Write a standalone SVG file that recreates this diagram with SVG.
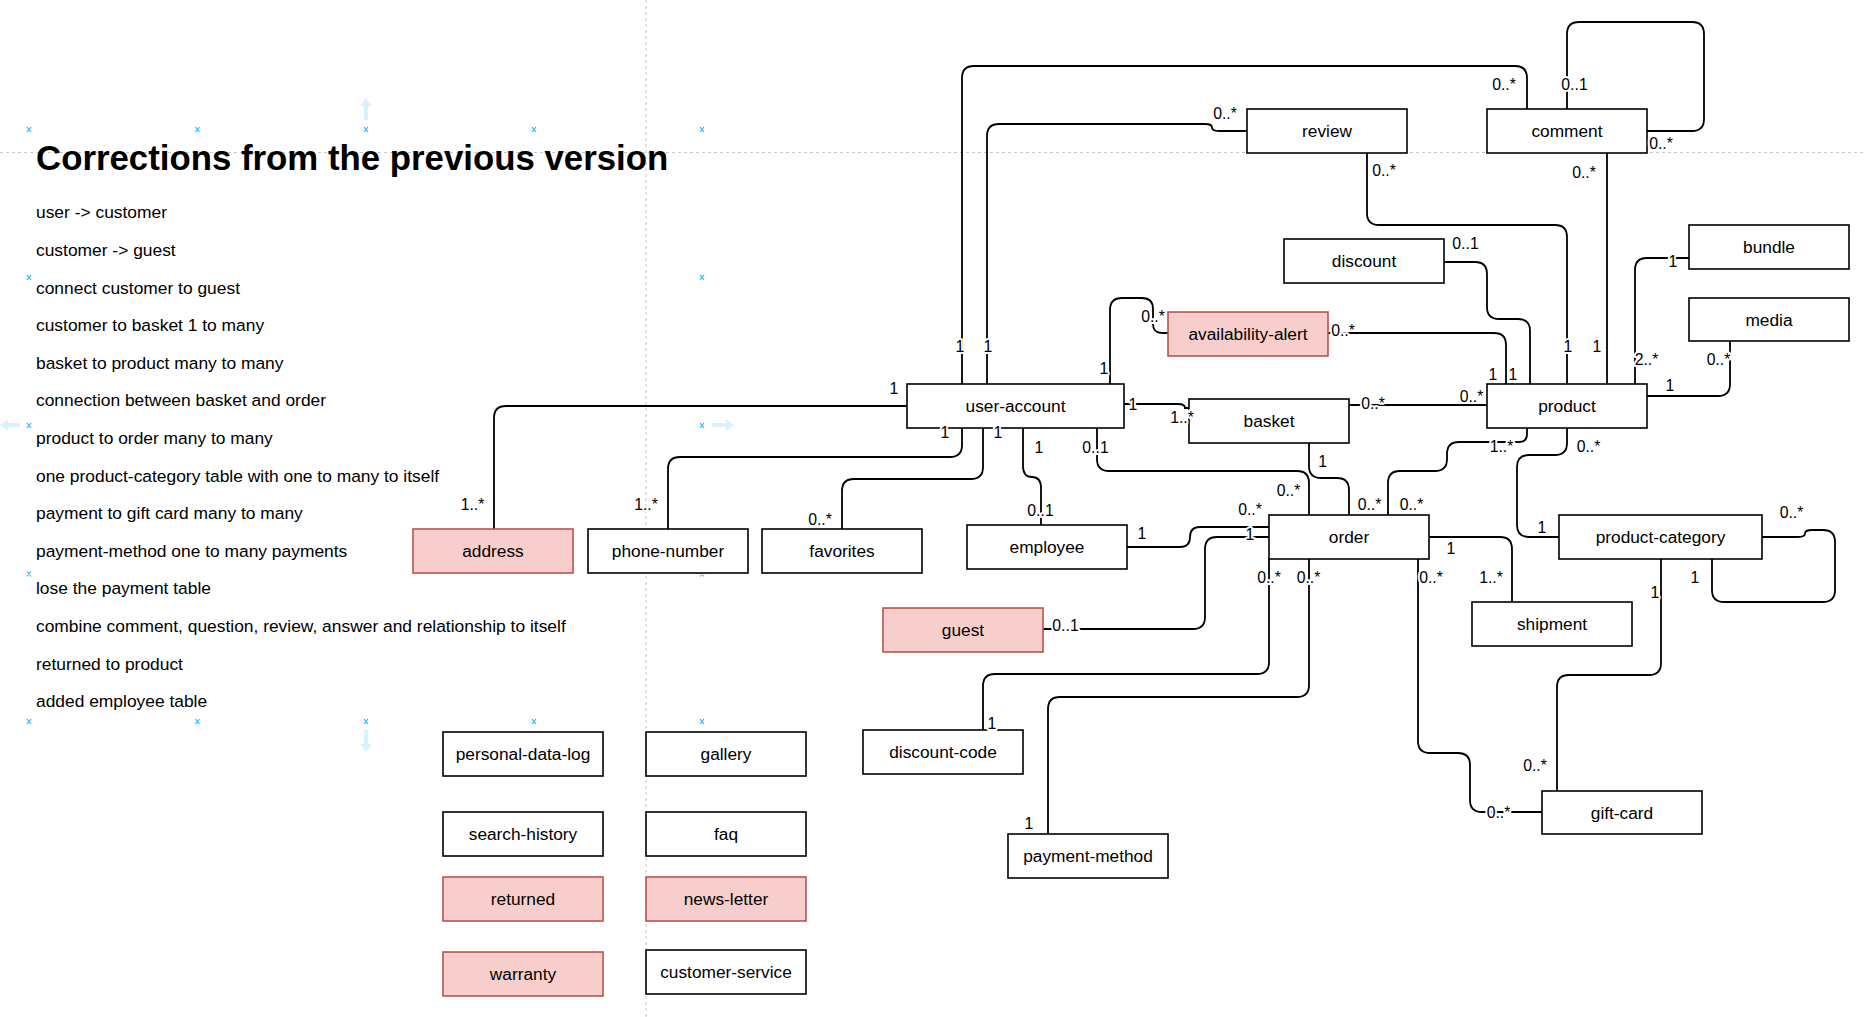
<svg xmlns="http://www.w3.org/2000/svg" width="1866" height="1017" viewBox="0 0 1866 1017">
<style>
.bg{fill:#ffffff}
.guide{stroke:#c8c8c8;stroke-width:1;stroke-dasharray:3 3;fill:none}
.mk{stroke:#29b6f2;stroke-width:1.2;fill:none}
.harrow{fill:#29b6f2;opacity:0.18}
.box{fill:#ffffff;stroke:#000000;stroke-width:1.6}
.pink{fill:#f8cecc;stroke:#b85450;stroke-width:1.6}
.edge{fill:none;stroke:#000000;stroke-width:1.8}
.nt{font-family:"Liberation Sans",Arial,Helvetica,sans-serif;font-size:17.3px;fill:#000000;text-anchor:middle}
.lb{font-family:"Liberation Sans",Arial,Helvetica,sans-serif;font-size:15.8px;fill:#000000;text-anchor:middle;paint-order:stroke;stroke:#ffffff;stroke-width:4px;stroke-linejoin:round}
.h1{font-family:"Liberation Sans",Arial,Helvetica,sans-serif;font-size:34.8px;font-weight:bold;fill:#000000}
.tx{font-family:"Liberation Sans",Arial,Helvetica,sans-serif;font-size:17.4px;fill:#000000}
</style>
<rect class="bg" x="0" y="0" width="1866" height="1017"/>
<g id="guides">
<line class="guide" x1="0" y1="152.5" x2="1866" y2="152.5"/>
<line class="guide" x1="646" y1="0" x2="646" y2="1017"/>
</g>
<g id="notes">
<text class="h1" x="36" y="170">Corrections from the previous version</text>
<text class="tx" x="36" y="218">user -&gt; customer</text>
<text class="tx" x="36" y="256">customer -&gt; guest</text>
<text class="tx" x="36" y="293.5">connect customer to guest</text>
<text class="tx" x="36" y="331">customer to basket 1 to many</text>
<text class="tx" x="36" y="369">basket to product many to many</text>
<text class="tx" x="36" y="406">connection between basket and order</text>
<text class="tx" x="36" y="444">product to order many to many</text>
<text class="tx" x="36" y="481.5">one product-category table with one to many to itself</text>
<text class="tx" x="36" y="519">payment to gift card many to many</text>
<text class="tx" x="36" y="557">payment-method one to many payments</text>
<text class="tx" x="36" y="594">lose the payment table</text>
<text class="tx" x="36" y="632">combine comment, question, review, answer and relationship to itself</text>
<text class="tx" x="36" y="669.5">returned to product</text>
<text class="tx" x="36" y="707">added employee table</text>
</g>
<g id="selection">
<path class="mk" d="M27,127 l4,5 M31,127 l-4,5 M195.5,127 l4,5 M199.5,127 l-4,5 M364,127 l4,5 M368,127 l-4,5 M532,127 l4,5 M536,127 l-4,5 M700,127 l4,5 M704,127 l-4,5"/>
<path class="mk" d="M27,275 l4,5 M31,275 l-4,5 M700,275 l4,5 M704,275 l-4,5"/>
<path class="mk" d="M27,423 l4,5 M31,423 l-4,5 M700,423 l4,5 M704,423 l-4,5"/>
<path class="mk" d="M27,571.5 l4,5 M31,571.5 l-4,5 M700,571.5 l4,5 M704,571.5 l-4,5"/>
<path class="mk" d="M27,719 l4,5 M31,719 l-4,5 M195.5,719 l4,5 M199.5,719 l-4,5 M364,719 l4,5 M368,719 l-4,5 M532,719 l4,5 M536,719 l-4,5 M700,719 l4,5 M704,719 l-4,5"/>
<path class="harrow" d="M366,98 l-6,8 h4 v14 h4 v-14 h4 z"/>
<path class="harrow" d="M366,752 l-6,-8 h4 v-14 h4 v14 h4 z"/>
<path class="harrow" d="M0,425 l8,-6 v4 h12 v4 h-12 v4 z"/>
<path class="harrow" d="M734,425 l-8,-6 v4 h-14 v4 h14 v4 z"/>
</g>
<g id="connectors">
<path class="edge" d="M962,384 V78 Q962,66 974,66 H1515 Q1527,66 1527,78 V109"/>
<path class="edge" d="M987,384 V136 Q987,124 999,124 H1205 Q1212,124 1212,127.5 Q1212,131 1219,131 H1247"/>
<path class="edge" d="M1110,384 V310 Q1110,298 1122,298 H1142 Q1153,298 1153,309 V324 Q1153,333 1162,333 H1168"/>
<path class="edge" d="M1328,333 H1494 Q1506,333 1506,345 V384"/>
<path class="edge" d="M1443,262 H1475 Q1487,262 1487,274 V307 Q1487,319 1499,319 H1518 Q1530,319 1530,331 V384"/>
<path class="edge" d="M1367,153 V213 Q1367,225 1379,225 H1555 Q1567,225 1567,237 V384"/>
<path class="edge" d="M1607,153 V384"/>
<path class="edge" d="M1567,109 V34 Q1567,22 1579,22 H1692 Q1704,22 1704,34 V119 Q1704,131 1692,131 H1647"/>
<path class="edge" d="M1635,384 V270 Q1635,258 1647,258 H1689"/>
<path class="edge" d="M1647,396 H1718 Q1730,396 1730,384 V341"/>
<path class="edge" d="M1124,404 H1178 Q1185,404 1185,408 H1189"/>
<path class="edge" d="M1349,405 H1487"/>
<path class="edge" d="M907,406 H506 Q494,406 494,418 V529"/>
<path class="edge" d="M962,428 V445 Q962,457 950,457 H680 Q668,457 668,469 V529"/>
<path class="edge" d="M983,428 V467 Q983,479 971,479 H854 Q842,479 842,491 V529"/>
<path class="edge" d="M1023,428 V466 Q1023,477 1032,477 Q1041,477 1041,488 V525"/>
<path class="edge" d="M1097,428 V459 Q1097,471 1109,471 H1297 Q1309,471 1309,483 V515"/>
<path class="edge" d="M1309,443 V466 Q1309,478 1321,478 H1337 Q1349,478 1349,490 V515"/>
<path class="edge" d="M1527,428 V434 Q1527,442 1519,442 H1459 Q1447,442 1447,454 V459 Q1447,471 1435,471 H1400 Q1388,471 1388,483 V515"/>
<path class="edge" d="M1567,428 V443 Q1567,455 1555,455 H1529 Q1517,455 1517,467 V525 Q1517,537 1529,537 H1559"/>
<path class="edge" d="M1762,537 H1798 Q1805,537 1805,533.5 Q1805,530 1812,530 H1823 Q1835,530 1835,542 V590 Q1835,602 1823,602 H1724 Q1712,602 1712,590 V559"/>
<path class="edge" d="M1661,559 V663 Q1661,675 1649,675 H1569 Q1557,675 1557,687 V791"/>
<path class="edge" d="M1418,559 V741 Q1418,753 1430,753 H1458 Q1470,753 1470,765 V800 Q1470,812 1482,812 H1542"/>
<path class="edge" d="M1429,537 H1500 Q1512,537 1512,549 V602"/>
<path class="edge" d="M1127,547 H1180 Q1190,547 1190,537 Q1190,527 1200,527 H1269"/>
<path class="edge" d="M1043,629 H1193 Q1205,629 1205,617 V549 Q1205,537 1217,537 H1269"/>
<path class="edge" d="M1269,559 V662 Q1269,674 1257,674 H995 Q983,674 983,686 V730"/>
<path class="edge" d="M1309,559 V685 Q1309,697 1297,697 H1060 Q1048,697 1048,709 V834"/>
</g>
<g id="node-review"><rect class="box" x="1247" y="109" width="160" height="44"/><text class="nt" x="1327" y="137">review</text></g>
<g id="node-comment"><rect class="box" x="1487" y="109" width="160" height="44"/><text class="nt" x="1567" y="137">comment</text></g>
<g id="node-discount"><rect class="box" x="1284" y="239" width="160" height="44"/><text class="nt" x="1364" y="267">discount</text></g>
<g id="node-bundle"><rect class="box" x="1689" y="225" width="160" height="44"/><text class="nt" x="1769" y="253">bundle</text></g>
<g id="node-media"><rect class="box" x="1689" y="298" width="160" height="43"/><text class="nt" x="1769" y="325.5">media</text></g>
<g id="node-availability-alert"><rect class="pink" x="1168" y="312" width="160" height="44"/><text class="nt" x="1248" y="340">availability-alert</text></g>
<g id="node-user-account"><rect class="box" x="907" y="384" width="217" height="44"/><text class="nt" x="1015.5" y="412">user-account</text></g>
<g id="node-basket"><rect class="box" x="1189" y="399" width="160" height="44"/><text class="nt" x="1269" y="427">basket</text></g>
<g id="node-product"><rect class="box" x="1487" y="384" width="160" height="44"/><text class="nt" x="1567" y="412">product</text></g>
<g id="node-address"><rect class="pink" x="413" y="529" width="160" height="44"/><text class="nt" x="493" y="557">address</text></g>
<g id="node-phone-number"><rect class="box" x="588" y="529" width="160" height="44"/><text class="nt" x="668" y="557">phone-number</text></g>
<g id="node-favorites"><rect class="box" x="762" y="529" width="160" height="44"/><text class="nt" x="842" y="557">favorites</text></g>
<g id="node-employee"><rect class="box" x="967" y="525" width="160" height="44"/><text class="nt" x="1047" y="553">employee</text></g>
<g id="node-order"><rect class="box" x="1269" y="515" width="160" height="44"/><text class="nt" x="1349" y="543">order</text></g>
<g id="node-product-category"><rect class="box" x="1559" y="515" width="203" height="44"/><text class="nt" x="1660.5" y="543">product-category</text></g>
<g id="node-shipment"><rect class="box" x="1472" y="602" width="160" height="44"/><text class="nt" x="1552" y="630">shipment</text></g>
<g id="node-guest"><rect class="pink" x="883" y="608" width="160" height="44"/><text class="nt" x="963" y="636">guest</text></g>
<g id="node-discount-code"><rect class="box" x="863" y="730" width="160" height="44"/><text class="nt" x="943" y="758">discount-code</text></g>
<g id="node-gift-card"><rect class="box" x="1542" y="791" width="160" height="43"/><text class="nt" x="1622" y="818.5">gift-card</text></g>
<g id="node-payment-method"><rect class="box" x="1008" y="834" width="160" height="44"/><text class="nt" x="1088" y="862">payment-method</text></g>
<g id="node-personal-data-log"><rect class="box" x="443" y="732" width="160" height="44"/><text class="nt" x="523" y="760">personal-data-log</text></g>
<g id="node-gallery"><rect class="box" x="646" y="732" width="160" height="44"/><text class="nt" x="726" y="760">gallery</text></g>
<g id="node-search-history"><rect class="box" x="443" y="812" width="160" height="44"/><text class="nt" x="523" y="840">search-history</text></g>
<g id="node-faq"><rect class="box" x="646" y="812" width="160" height="44"/><text class="nt" x="726" y="840">faq</text></g>
<g id="node-returned"><rect class="pink" x="443" y="877" width="160" height="44"/><text class="nt" x="523" y="905">returned</text></g>
<g id="node-news-letter"><rect class="pink" x="646" y="877" width="160" height="44"/><text class="nt" x="726" y="905">news-letter</text></g>
<g id="node-warranty"><rect class="pink" x="443" y="952" width="160" height="44"/><text class="nt" x="523" y="980">warranty</text></g>
<g id="node-customer-service"><rect class="box" x="646" y="950" width="160" height="44"/><text class="nt" x="726" y="978">customer-service</text></g>
<g id="labels">
<text class="lb" x="960" y="352">1</text>
<text class="lb" x="1504" y="90">0..*</text>
<text class="lb" x="988" y="352">1</text>
<text class="lb" x="1225" y="119">0..*</text>
<text class="lb" x="1104" y="374">1</text>
<text class="lb" x="1153" y="322">0..*</text>
<text class="lb" x="1343" y="336">0..*</text>
<text class="lb" x="1493" y="380">1</text>
<text class="lb" x="1465.5" y="249">0..1</text>
<text class="lb" x="1513" y="380">1</text>
<text class="lb" x="1384" y="176">0..*</text>
<text class="lb" x="1568" y="352">1</text>
<text class="lb" x="1584" y="178">0..*</text>
<text class="lb" x="1597" y="352">1</text>
<text class="lb" x="1574.5" y="90">0..1</text>
<text class="lb" x="1661" y="149">0..*</text>
<text class="lb" x="1673" y="267">1</text>
<text class="lb" x="1646.5" y="365">2..*</text>
<text class="lb" x="1670" y="391">1</text>
<text class="lb" x="1718.5" y="365">0..*</text>
<text class="lb" x="1133" y="410">1</text>
<text class="lb" x="1182" y="423">1..*</text>
<text class="lb" x="1373" y="409">0..*</text>
<text class="lb" x="1471.5" y="402">0..*</text>
<text class="lb" x="894" y="394">1</text>
<text class="lb" x="472.5" y="510">1..*</text>
<text class="lb" x="945" y="438">1</text>
<text class="lb" x="646" y="510">1..*</text>
<text class="lb" x="998" y="438">1</text>
<text class="lb" x="820" y="525">0..*</text>
<text class="lb" x="1039" y="453">1</text>
<text class="lb" x="1040.5" y="516">0..1</text>
<text class="lb" x="1095.5" y="453">0..1</text>
<text class="lb" x="1288.5" y="496">0..*</text>
<text class="lb" x="1322.7" y="467">1</text>
<text class="lb" x="1369.5" y="510">0..*</text>
<text class="lb" x="1501.5" y="452">1..*</text>
<text class="lb" x="1411.5" y="510">0..*</text>
<text class="lb" x="1588.5" y="452">0..*</text>
<text class="lb" x="1542" y="533">1</text>
<text class="lb" x="1791.5" y="518">0..*</text>
<text class="lb" x="1695" y="583">1</text>
<text class="lb" x="1655" y="598">1</text>
<text class="lb" x="1535" y="771">0..*</text>
<text class="lb" x="1431" y="583">0..*</text>
<text class="lb" x="1498.5" y="818">0..*</text>
<text class="lb" x="1451" y="554">1</text>
<text class="lb" x="1491" y="583">1..*</text>
<text class="lb" x="1142" y="539">1</text>
<text class="lb" x="1250" y="515">0..*</text>
<text class="lb" x="1065.5" y="631">0..1</text>
<text class="lb" x="1250" y="540">1</text>
<text class="lb" x="1269" y="583">0..*</text>
<text class="lb" x="992" y="729">1</text>
<text class="lb" x="1308.5" y="583">0..*</text>
<text class="lb" x="1029" y="829">1</text>
</g>
</svg>
